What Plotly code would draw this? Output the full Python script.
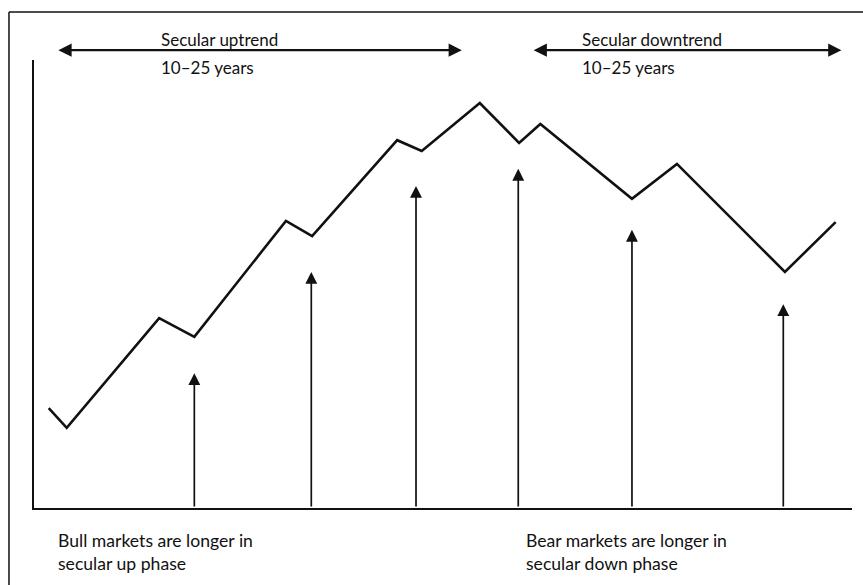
import plotly.graph_objects as go

# ---- Data (conceptual units: time 0-100, price level 0-100) ----
market_time = [1.8, 4.0, 15.3, 19.6, 30.8, 34.0, 44.4, 47.4, 54.5, 59.3, 61.9, 73.1, 78.6, 91.8, 98.0]
market_level = [22.3, 17.9, 42.4, 38.2, 64.1, 60.7, 82.1, 79.7, 90.4, 81.5, 85.7, 69.0, 76.8, 52.7, 63.8]

cycle_time = [19.6, 33.9, 46.7, 59.2, 73.1, 91.6]
cycle_height = [30.1, 52.7, 71.9, 75.7, 62.1, 45.5]

trend_names = ["Secular uptrend", "Secular downtrend"]
trend_durations = ["10\u201325 years", "10\u201325 years"]
trend_start = [2.8, 60.9]
trend_end = [52.3, 98.7]
trend_text_x = [15.3, 66.7]

phase_notes = ["Bull markets are longer in<br>secular up phase",
               "Bear markets are longer in<br>secular down phase"]
phase_note_x = [2.7, 59.9]

FONT = "Lato"
INK = "#111111"

fig = go.Figure()
fig.add_trace(go.Scatter(
    x=market_time, y=market_level, mode="lines",
    line=dict(color=INK, width=2.6), hoverinfo="skip", showlegend=False,
))

annotations = []
# vertical cycle arrows
for cx, ch in zip(cycle_time, cycle_height):
    annotations.append(dict(
        x=cx, y=ch, xref="x", yref="y", ax=cx, ay=0, axref="x", ayref="y",
        text="", showarrow=True, arrowhead=2, arrowsize=1.4, arrowwidth=1.7,
        arrowcolor=INK, standoff=0, startstandoff=0,
    ))

# secular trend double arrows and labels
for name, dur, s, e, tx in zip(trend_names, trend_durations, trend_start, trend_end, trend_text_x):
    annotations.append(dict(
        x=e, y=1.022, xref="x", yref="paper", ax=s, ay=0, axref="x", ayref="pixel",
        text="", showarrow=True, arrowhead=2, startarrowhead=2, arrowside="end+start",
        arrowsize=1.2, arrowwidth=2.2, arrowcolor=INK, standoff=0, startstandoff=0,
    ))
    annotations.append(dict(
        x=tx, y=1.045, xref="x", yref="paper", text=name, showarrow=False,
        xanchor="left", yanchor="middle", font=dict(family=FONT, size=17, color=INK),
    ))
    annotations.append(dict(
        x=tx, y=0.983, xref="x", yref="paper", text=dur, showarrow=False,
        xanchor="left", yanchor="middle", font=dict(family=FONT, size=17, color=INK),
    ))

# bottom notes
for note, nx in zip(phase_notes, phase_note_x):
    annotations.append(dict(
        x=nx, y=-0.099, xref="x", yref="paper", text=note, showarrow=False,
        xanchor="left", yanchor="middle", align="left",
        font=dict(family=FONT, size=17.6, color=INK),
    ))

# outer frame (top and left edges of the scanned figure)
shapes = [
    dict(type="line", xref="paper", yref="paper", x0=-0.0306, x1=1.02, y0=1.107, y1=1.107,
         line=dict(color=INK, width=1.5)),
    dict(type="line", xref="paper", yref="paper", x0=-0.0306, x1=-0.0306, y0=1.107, y1=-0.2,
         line=dict(color=INK, width=1.5)),
]

fig.update_layout(
    width=863, height=585, autosize=False,
    margin=dict(l=34, r=11, t=60, b=77),
    paper_bgcolor="white", plot_bgcolor="white",
    showlegend=False,
    annotations=annotations, shapes=shapes,
    xaxis=dict(range=[0, 100], showgrid=False, zeroline=False, showticklabels=False,
               ticks="", showline=True, linecolor=INK, linewidth=2.2, fixedrange=True),
    yaxis=dict(range=[0, 100], showgrid=False, zeroline=False, showticklabels=False,
               ticks="", showline=True, linecolor=INK, linewidth=2.2, fixedrange=True),
)

fig.write_html(
    "out.html",
    config={"displayModeBar": False},
    post_script="document.body.style.margin='0';document.body.style.overflow='hidden';",
)
